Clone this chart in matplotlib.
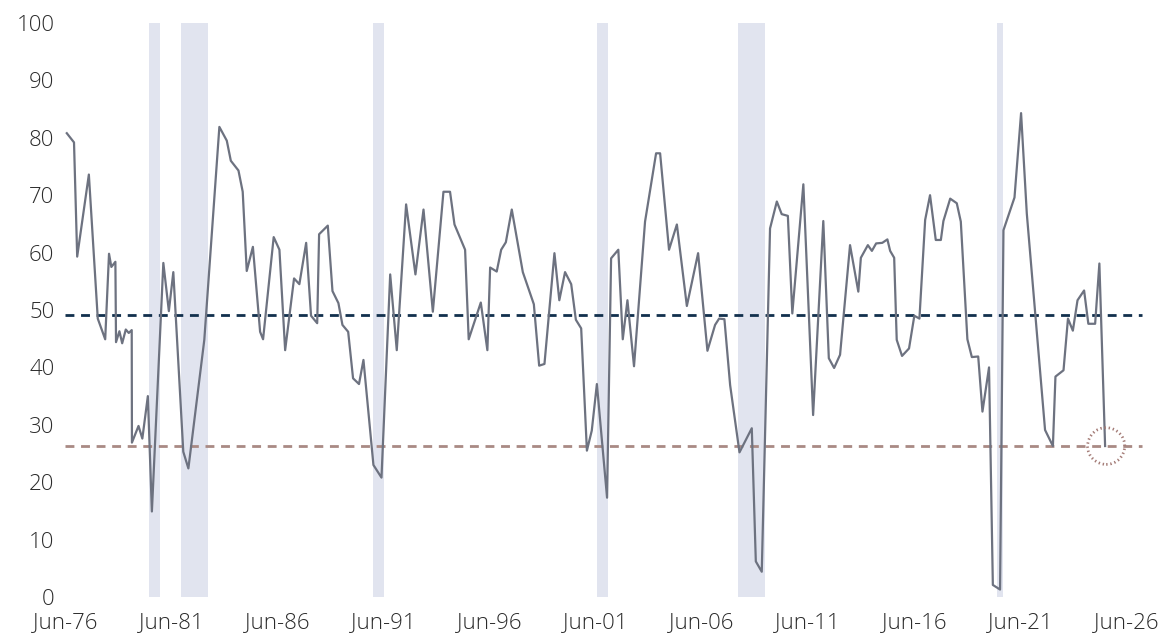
import matplotlib
matplotlib.use("Agg")
import matplotlib.pyplot as plt
from matplotlib.patches import Ellipse

# decimal years
dates = [
    1976.53, 1976.87, 1977.02, 1977.57, 1977.99, 1978.34, 1978.52, 1978.63, 1978.82, 1978.85,
    1979.01, 1979.14, 1979.31, 1979.45, 1979.59, 1979.60, 1979.91, 1980.09, 1980.35, 1980.54,
    1981.08, 1981.34, 1981.55, 1982.02, 1982.26, 1983.01, 1983.72, 1984.07, 1984.26, 1984.62,
    1984.82, 1985.01, 1985.30, 1985.64, 1985.78, 1986.28, 1986.55, 1986.82, 1987.24, 1987.49,
    1987.81, 1988.04, 1988.33, 1988.42, 1988.83, 1989.05, 1989.33, 1989.52, 1989.79, 1990.02,
    1990.30, 1990.51, 1990.98, 1991.36, 1991.77, 1992.08, 1992.52, 1992.96, 1993.34, 1993.78,
    1994.28, 1994.59, 1994.80, 1995.30, 1995.47, 1996.04, 1996.35, 1996.48, 1996.79, 1997.00,
    1997.22, 1997.50, 1998.02, 1998.54, 1998.79, 1999.04, 1999.51, 1999.74, 2000.01, 2000.30,
    2000.52, 2000.77, 2001.04, 2001.27, 2001.51, 2001.99, 2002.18, 2002.52, 2002.73, 2002.95,
    2003.26, 2003.78, 2004.30, 2004.49, 2004.91, 2005.28, 2005.75, 2006.28, 2006.72, 2007.08,
    2007.27, 2007.52, 2007.79, 2008.23, 2008.81, 2009.00, 2009.28, 2009.67, 2009.99, 2010.22,
    2010.51, 2010.72, 2011.24, 2011.70, 2012.18, 2012.44, 2012.69, 2012.97, 2013.44, 2013.83,
    2013.95, 2014.28, 2014.47, 2014.67, 2014.96, 2015.20, 2015.33, 2015.52, 2015.64, 2015.89,
    2016.22, 2016.47, 2016.71, 2016.98, 2017.21, 2017.48, 2017.72, 2017.84, 2018.16, 2018.47,
    2018.66, 2018.97, 2019.18, 2019.48, 2019.68, 2019.99, 2020.17, 2020.51, 2020.67, 2021.19,
    2021.50, 2021.77, 2022.63, 2023.00, 2023.12, 2023.50, 2023.71, 2023.94, 2024.16, 2024.47,
    2024.67, 2024.99, 2025.19, 2025.46,
]
values = [
    80.8, 79.2, 59.3, 73.6, 48.5, 44.9, 59.8, 57.5, 58.4, 44.4,
    46.3, 44.2, 46.6, 46.0, 46.5, 26.9, 29.8, 27.6, 35.0, 14.9,
    58.2, 49.8, 56.6, 25.3, 22.4, 44.8, 81.9, 79.5, 76.0, 74.3,
    70.6, 56.8, 61.0, 46.2, 44.9, 62.7, 60.5, 43.0, 55.5, 54.5,
    61.7, 49.0, 47.7, 63.2, 64.7, 53.3, 51.2, 47.4, 46.2, 38.1,
    37.1, 41.3, 23.0, 20.8, 56.2, 43.0, 68.4, 56.2, 67.5, 49.7,
    70.6, 70.6, 64.9, 60.5, 44.9, 51.3, 43.0, 57.4, 56.7, 60.5,
    61.8, 67.5, 56.6, 51.0, 40.3, 40.6, 59.9, 51.7, 56.6, 54.5,
    48.3, 46.8, 25.5, 29.0, 37.1, 17.3, 59.0, 60.5, 44.9, 51.7,
    40.2, 65.4, 77.3, 77.3, 60.5, 64.9, 50.7, 59.9, 42.9, 47.4,
    48.5, 48.4, 36.9, 25.2, 29.4, 6.2, 4.4, 64.2, 68.9, 66.7,
    66.4, 49.4, 71.9, 31.7, 65.5, 41.6, 39.9, 42.2, 61.3, 53.2,
    59.1, 61.3, 60.3, 61.6, 61.7, 62.3, 60.3, 59.1, 44.8, 42.0,
    43.3, 49.0, 48.5, 65.7, 70.0, 62.2, 62.2, 65.5, 69.4, 68.6,
    65.4, 44.9, 41.8, 41.9, 32.3, 40.0, 2.1, 1.3, 63.9, 69.6,
    84.3, 66.8, 29.1, 26.3, 38.4, 39.5, 48.5, 46.4, 51.7, 53.4,
    47.6, 47.6, 58.1, 26.3,
]

recession_start = [1980.41, 1981.92, 1990.96, 2001.52, 2008.18, 2020.37]
recession_end = [1980.93, 1983.17, 1991.48, 2002.04, 2009.44, 2020.65]

long_run_avg = 49.1
latest_level = 26.3

tick_years = [1976.45 + 5 * i for i in range(11)]
tick_labels = ["Jun-76", "Jun-81", "Jun-86", "Jun-91", "Jun-96", "Jun-01",
               "Jun-06", "Jun-11", "Jun-16", "Jun-21", "Jun-26"]

plt.rcParams["font.family"] = ["Open Sans", "DejaVu Sans"]

fig = plt.figure(figsize=(11.6, 6.4), dpi=100)
ax = fig.add_axes([60 / 1160, 43 / 640, 1085 / 1160, 574 / 640])

for s, e in zip(recession_start, recession_end):
    ax.axvspan(s, e, color="#e1e4ef", lw=0, zorder=0)

ax.plot(dates, values, color="#6d7280", lw=1.6, zorder=3)

x0, x1 = 1976.45, 2027.2
ax.hlines(long_run_avg, x0, x1, colors="#12304d", lw=2, linestyles=(0, (3.2, 2.4)), zorder=2)
ax.hlines(latest_level, x0, x1, colors="#a98a84", lw=2, linestyles=(0, (3.2, 2.4)), zorder=2)

# dotted ring round the latest reading
ring = Ellipse((dates[-1] + 0.05, latest_level), width=1.75, height=6.4, fill=False,
               edgecolor="#a47c77", lw=2.0, linestyle=(0, (0.5, 1.0)), zorder=4)
ax.add_patch(ring)

ax.set_xlim(1976.21, 2027.34)
ax.set_ylim(0, 100)
ax.set_yticks(range(0, 101, 10))
ax.set_xticks(tick_years)
ax.set_xticklabels(tick_labels)
for sp in ax.spines.values():
    sp.set_visible(False)
ax.tick_params(axis="both", length=0, labelsize=16, labelcolor="#2b2b2b")
ax.tick_params(axis="y", pad=4)
ax.tick_params(axis="x", pad=11)
for lab in ax.get_xticklabels() + ax.get_yticklabels():
    lab.set_fontweight("light")

fig.savefig("out.png", dpi=100)
